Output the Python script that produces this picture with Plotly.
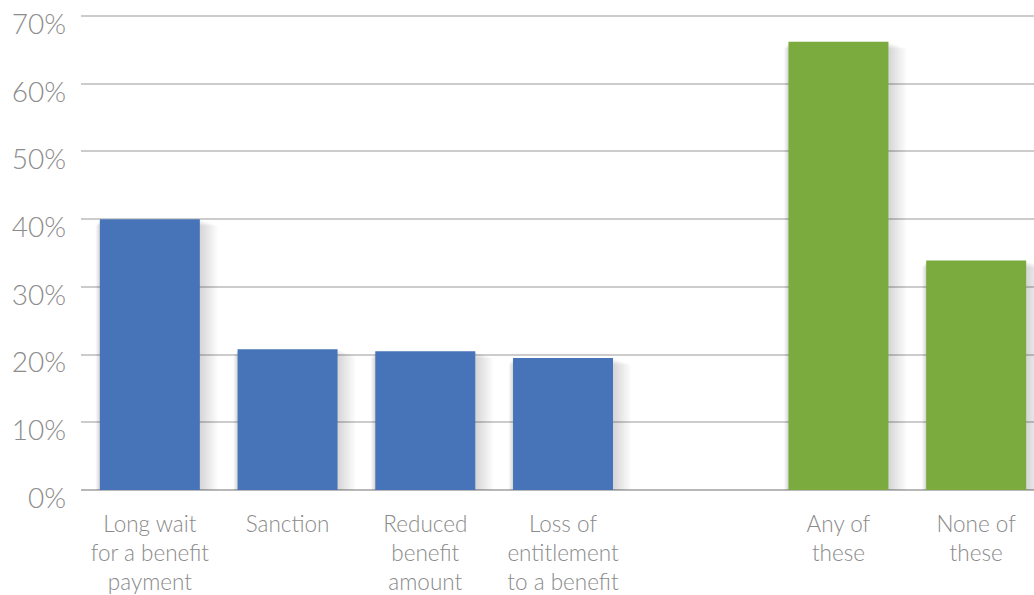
import plotly.graph_objects as go

categories = ["Long wait<br>for a benefit<br>payment", "Sanction", "Reduced<br>benefit<br>amount",
              "Loss of<br>entitlement<br>to a benefit", "", "Any of<br>these", "None of<br>these"]
values = [40.0, 20.8, 20.5, 19.5, None, 66.2, 33.9]
colors = ["#4773B8", "#4773B8", "#4773B8", "#4773B8", "#FFFFFF", "#7BAA3E", "#7BAA3E"]
y_ticks = [0, 10, 20, 30, 40, 50, 60, 70]
y_tick_labels = ["0%", "10%", "20%", "30%", "40%", "50%", "60%", "70%"]

xpos = list(range(len(categories)))
bar_w = 0.726

fig = go.Figure()

# soft drop shadow layers
for k in range(1, 9):
    fig.add_trace(go.Bar(
        x=xpos, y=[v - 0.12 * k if v is not None else None for v in values],
        width=bar_w + 0.02 * k,
        offset=-bar_w / 2 - 0.004 * k,
        marker=dict(color="rgba(0,0,0,0.018)", line=dict(width=0)),
        hoverinfo="skip", showlegend=False,
    ))

fig.add_trace(go.Bar(
    x=xpos, y=values, width=bar_w,
    marker=dict(color=colors, line=dict(width=0)),
    showlegend=False,
))

font_family = "Lato, 'Open Sans', sans-serif"

fig.update_layout(
    width=1034, height=595,
    margin=dict(l=81, r=0, t=14, b=105, autoexpand=False),
    paper_bgcolor="white", plot_bgcolor="white",
    barmode="overlay",
    font=dict(family=font_family, color="#8c8c8c"),
    xaxis=dict(
        tickmode="array", tickvals=xpos, ticktext=categories,
        range=[-0.5, 6.42], automargin=False,
        showgrid=False, showline=False, zeroline=False,
        ticks="", tickfont=dict(size=22.5, color="#8a8a8a", weight=300),
        ticklabelstandoff=18, ticklabeloverflow="allow",
    ),
    yaxis=dict(
        tickmode="array", tickvals=y_ticks, ticktext=y_tick_labels,
        range=[0, 70.3], automargin=False,
        showgrid=True, gridcolor="#cccccc", gridwidth=1.5,
        zeroline=True, zerolinecolor="#b8b8b8", zerolinewidth=2,
        showline=False, ticks="",
        tickfont=dict(size=28, color="#8c8c8c", weight=300),
        ticklabelstandoff=14, ticklabelshift=8, ticklabeloverflow="allow",
    ),
)

fig.write_html("out.html", post_script="document.body.style.margin='0';",
               config={"displayModeBar": False})
